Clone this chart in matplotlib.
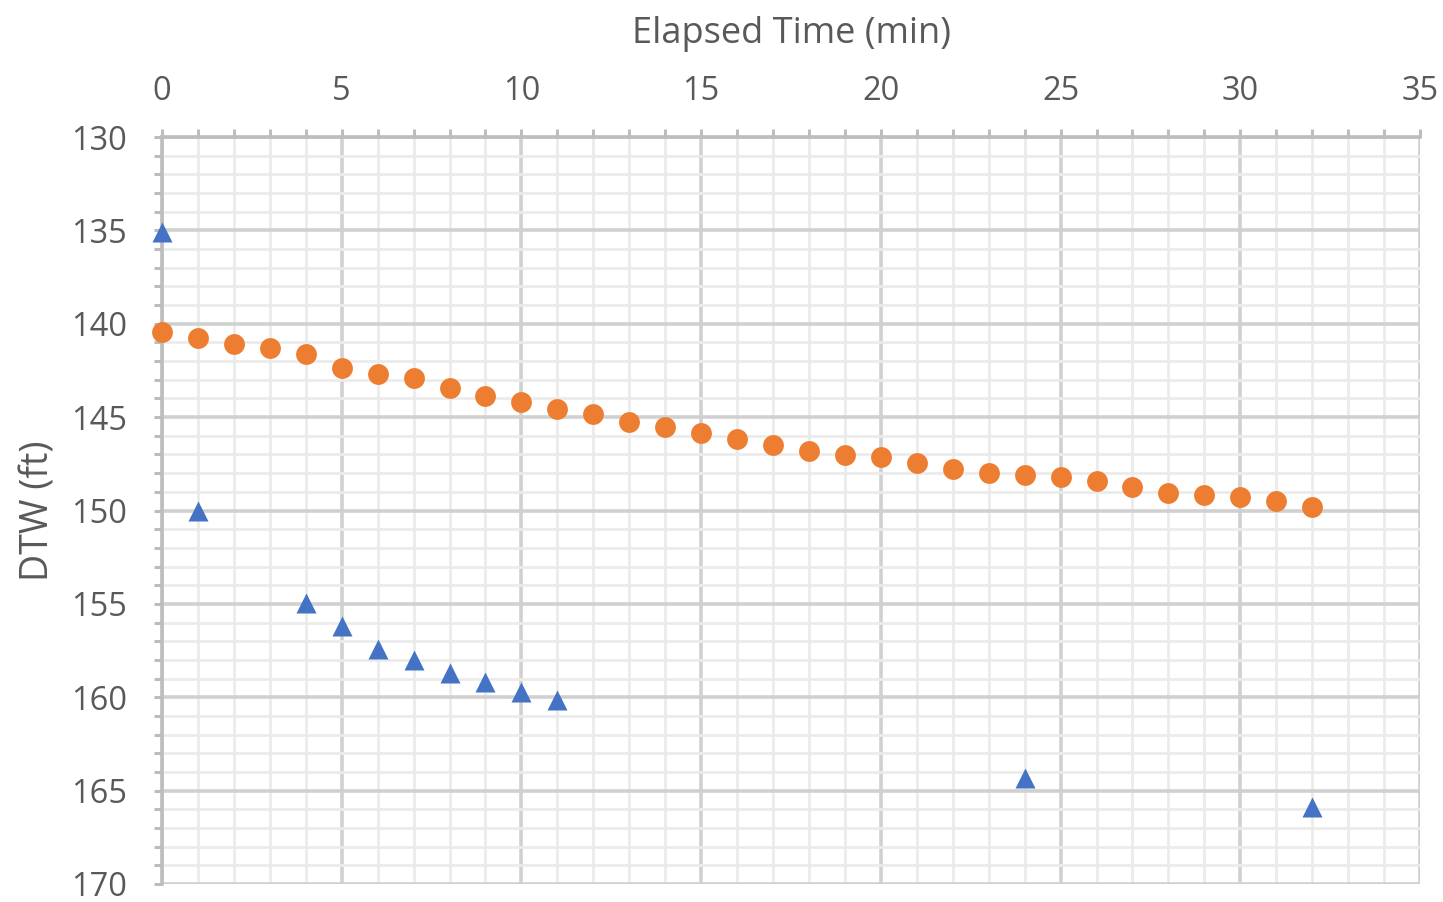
import matplotlib
matplotlib.use("Agg")
import matplotlib.pyplot as plt
from matplotlib.ticker import MultipleLocator

plt.rcParams['font.family'] = ['Open Sans', 'DejaVu Sans']

orange_x = list(range(0, 33))
orange_y = [140.44, 140.76, 141.08, 141.30, 141.62, 142.37, 142.69, 142.90, 143.44,
            143.87, 144.19, 144.57, 144.83, 145.26, 145.53, 145.85, 146.17, 146.49,
            146.81, 147.03, 147.14, 147.46, 147.78, 147.99, 148.10, 148.21, 148.42,
            148.74, 149.06, 149.17, 149.28, 149.49, 149.81]

blue_x = [0, 1, 4, 5, 6, 7, 8, 9, 10, 11, 24, 32]
blue_y = [135.1, 150.05, 154.95, 156.2, 157.4, 158.0, 158.7, 159.2, 159.7, 160.15, 164.3, 165.9]

x_label = "Elapsed Time (min)"
y_label = "DTW (ft)"

fig = plt.figure(figsize=(14.43, 9.02), dpi=100)
ax = fig.add_axes([162/1443, 1-884/902, (1420-162)/1443, (884-137)/902])

ax.set_xlim(0, 35)
ax.set_ylim(170, 130)
ax.xaxis.set_major_locator(MultipleLocator(5))
ax.xaxis.set_minor_locator(MultipleLocator(1))
ax.yaxis.set_major_locator(MultipleLocator(5))
ax.yaxis.set_minor_locator(MultipleLocator(1))

ax.grid(which='minor', color='#EBEBEB', lw=2.0, zorder=0)
ax.grid(which='major', color='#D0D0D0', lw=2.6, zorder=0)
ax.set_axisbelow(True)

ax.xaxis.tick_top()
ax.xaxis.set_label_position('top')
for s in ['bottom', 'right']:
    ax.spines[s].set_visible(False)
for s in ['top', 'left']:
    ax.spines[s].set_color('#BDBDBD')
    ax.spines[s].set_linewidth(2.6)

ax.tick_params(which='both', direction='out', color='#BDBDBD', width=2.2, length=6,
               labelsize=23.5, labelcolor='#595959')
ax.tick_params(axis='x', which='major', pad=15)
ax.tick_params(axis='y', which='major', pad=19)

ax.plot(orange_x, orange_y, 'o', color='#ED7D31', ms=15, mec='none', zorder=3, clip_on=False)
ax.plot(blue_x, blue_y, '^', color='#4472C4', ms=14.5, mec='none', zorder=3, clip_on=False)

ax.set_xlabel(x_label, fontsize=26, color='#595959', labelpad=23)
ax.set_ylabel(y_label, fontsize=27, color='#595959', labelpad=10)

fig.savefig("out.png", dpi=100)
